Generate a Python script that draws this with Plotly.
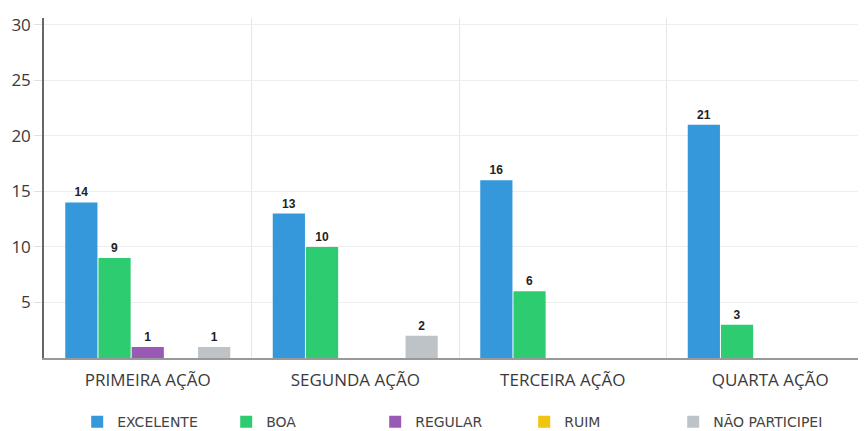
import plotly.graph_objects as go

# ── Data ──────────────────────────────────────────────────────────────────────
acoes = ["PRIMEIRA AÇÃO", "SEGUNDA AÇÃO", "TERCEIRA AÇÃO", "QUARTA AÇÃO"]
excelente = [14, 13, 16, 21]
boa = [9, 10, 6, 3]
regular = [1, None, None, None]
ruim = [None, None, None, None]
nao_participei = [1, 2, None, None]

series = [
    ("EXCELENTE", excelente, "#3498DB"),
    ("BOA", boa, "#2ECC71"),
    ("REGULAR", regular, "#9B59B6"),
    ("RUIM", ruim, "#F1C40F"),
    ("NÃO PARTICIPEI", nao_participei, "#BDC3C7"),
]

FONT = "'Open Sans', 'Noto Sans', sans-serif"
TEXT = "#3a3a3a"

fig = go.Figure()
for name, vals, color in series:
    fig.add_trace(go.Bar(
        x=acoes, y=vals, name=name,
        marker=dict(color=color, line=dict(width=0)),
        texttemplate="<b>%{y}</b>", textposition="outside",
        textfont=dict(family="Liberation Sans, Arial", size=12, color="#222222"),
        cliponaxis=False,
    ))

# page body has an 8px margin, so margins are trimmed to land where the reference does
fig.update_layout(
    width=866, height=431,
    paper_bgcolor="white", plot_bgcolor="white",
    font=dict(family=FONT, color=TEXT, size=14),
    margin=dict(t=10, b=81, l=36, r=0, autoexpand=False),
    barmode="group", bargap=0.2, bargroupgap=0.03,
    showlegend=True,
    legend=dict(orientation="h", x=0.04, xanchor="left",
                yref="container", y=0.039, yanchor="middle",
                entrywidth=104, entrywidthmode="pixels",
                font=dict(family="'DejaVu Sans', sans-serif", size=14, color="#444444"),
                itemsizing="constant"),
)
fig.update_xaxes(
    showgrid=True, gridcolor="#e6e6e6", tickson="boundaries",
    showline=True, linecolor="#999999", linewidth=1.5,
    ticks="", ticklabelstandoff=6, automargin=False,
    tickfont=dict(size=17, color=TEXT),
)
fig.update_yaxes(
    range=[0, 30.6], tickvals=[5, 10, 15, 20, 25, 30],
    showgrid=True, gridcolor="#eeeeee", zeroline=False,
    showline=True, linecolor="#666666", linewidth=1.5,
    ticks="outside", ticklen=8, tickcolor="#e0e0e0", automargin=False,
    tickfont=dict(size=17, color=TEXT),
)

fig.write_html("out.html")
